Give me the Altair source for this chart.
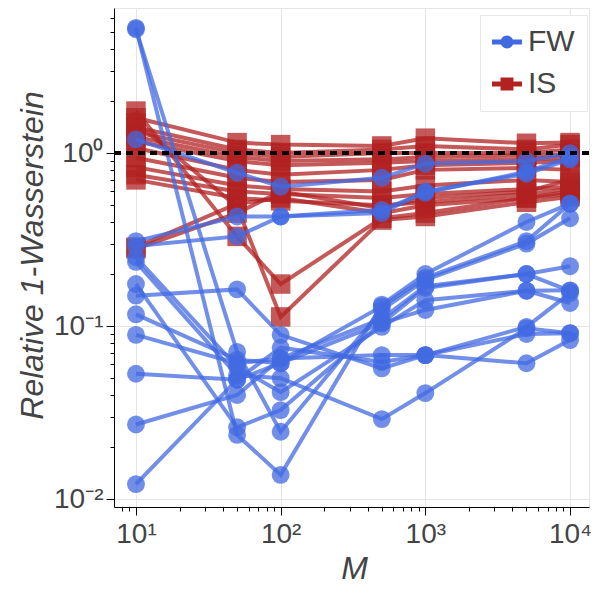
import altair as alt
import pandas as pd

# ---------------- data ----------------
M = [10, 50, 100, 500, 1000, 5000, 10000]

fw01 = [1.20, 0.77, 0.64, 0.72, 0.87, 0.90, 1.00]
fw02 = [0.31, 0.43, 0.43, 0.47, 0.59, 0.78, 0.95]
fw03 = [5.30, 0.0235, 0.0138, 0.133, 0.20, 0.40, 0.51]
fw04 = [5.20, 0.071, 0.0245, 0.124, 0.185, 0.30, 0.42]
fw05 = [0.175, 0.026, 0.0327, 0.104, 0.166, 0.20, 0.222]
fw06 = [0.25, 0.058, 0.0415, 0.099, 0.141, 0.16, 0.161]
fw07 = [0.117, 0.064, 0.061, 0.104, 0.124, 0.16, 0.136]
fw08 = [0.089, 0.061, 0.065, 0.068, 0.068, 0.099, 0.155]
fw09 = [0.053, 0.049, 0.075, 0.062, 0.068, 0.061, 0.083]
fw10 = [0.235, 0.052, 0.050, 0.029, 0.041, 0.097, 0.091]
fw11 = [0.15, 0.163, 0.089, 0.057, 0.068, 0.090, 0.091]
fw12 = [0.027, 0.040, 0.065, 0.110, 0.170, 0.200, 0.160]
fw13 = [0.0122, 0.049, 0.061, 0.130, 0.190, 0.31, 0.51]
fw14 = [0.29, 0.33, 0.43, 0.45, 0.60, 0.76, 0.92]

is01 = [1.75, 0.33, 0.175, 0.42, 0.45, 0.55, 0.60]
is02 = [1.50, 0.49, 0.113, 0.41, 0.43, 0.52, 0.56]
is03 = [1.60, 1.15, 1.12, 1.10, 1.22, 1.14, 1.15]
is04 = [1.41, 1.05, 1.00, 1.05, 1.10, 1.05, 1.12]
is05 = [1.32, 1.00, 0.95, 1.00, 1.00, 1.00, 1.05]
is06 = [1.24, 0.95, 0.90, 0.92, 0.95, 0.97, 0.98]
is07 = [1.17, 0.90, 0.85, 0.88, 0.90, 0.92, 0.94]
is08 = [1.07, 0.80, 0.75, 0.80, 0.85, 0.88, 0.90]
is09 = [0.94, 0.72, 0.68, 0.70, 0.80, 0.82, 0.80]
is10 = [0.83, 0.65, 0.62, 0.60, 0.65, 0.70, 0.68]
is11 = [0.75, 0.60, 0.58, 0.55, 0.58, 0.62, 0.64]
is12 = [0.70, 0.55, 0.53, 0.50, 0.52, 0.58, 0.62]
is13 = [0.286, 0.51, 0.55, 0.45, 0.50, 0.55, 0.58]
is14 = [0.28, 0.45, 0.60, 0.48, 0.55, 0.60, 0.70]

FW = [fw01, fw02, fw03, fw04, fw05, fw06, fw07, fw08, fw09, fw10, fw11, fw12, fw13, fw14]
IS = [is01, is02, is03, is04, is05, is06, is07, is08, is09, is10, is11, is12, is13, is14]
ref_value = [1.0]

rows = []
for name, group in (("FW", FW), ("IS", IS)):
    for i, s in enumerate(group):
        for m, v in zip(M, s):
            rows.append({"method": name, "run": f"{name}{i:02d}", "M": m, "value": v})
df = pd.DataFrame(rows)
df_fw = df[df.method == "FW"]
df_is = df[df.method == "IS"]
df_ref = pd.DataFrame({"ref": ref_value})

# ---------------- style ----------------
BLUE = "#4169E1"
RED = "#B22222"
FONT = "Liberation Sans"
TXT = "#444444"
GRID = "#e5e5e5"

dec = "abs(log(datum.value)/LN10 - round(log(datum.value)/LN10)) < 0.001"
ex = "round(log(datum.value)/LN10)"
label_expr = (f"{dec} ? '10' + ({ex} < 0 ? '\u207b' : '') + "
              f"substring('\u2070\u00b9\u00b2\u00b3\u2074\u2075\u2076\u2077\u2078\u2079', abs({ex}), abs({ex}) + 1) : ''")

x_ticks = [8, 9] + [k * 10 ** p for p in (1, 2, 3) for k in range(1, 10)] + [10000]
y_ticks = [round(k * 10.0 ** p, 6) for p in (-2, -1, 0) for k in range(1, 10) if k * 10.0 ** p <= 6.9]

common_axis = dict(
    grid=True,
    gridColor=GRID,
    gridOpacity={"condition": {"test": dec, "value": 1}, "value": 0},
    tickSize={"condition": {"test": dec, "value": 8}, "value": 4},
    tickColor="black",
    domainColor="black",
    labelExpr=label_expr,
    labelFont=FONT,
    labelFontSize=28,
    labelColor=TXT,
    labelOverlap=False,
    labelFlush=False,
    titleFont=FONT,
    titleFontSize=32,
    titleFontStyle="italic",
    titleFontWeight="normal",
    titleColor=TXT,
    titleBaseline="alphabetic",
)

x_axis = alt.Axis(values=x_ticks, title="M", labelBaseline="alphabetic", labelPadding=27,
                  titleX=240, titleY=71, **common_axis)
y_axis = alt.Axis(values=y_ticks, title="Relative 1-Wasserstein", labelPadding=3,
                  titleX=-72, titleY=247, **common_axis)

x_scale = alt.Scale(type="log", domain=[7.05, 13520], nice=False)
y_scale = alt.Scale(type="log", domain=[0.009, 6.9], nice=False)

X = alt.X("M:Q", scale=x_scale, axis=x_axis)
Y = alt.Y("value:Q", scale=y_scale, axis=y_axis)

is_lines = alt.Chart(df_is).mark_line(color=RED, opacity=0.75, strokeWidth=4).encode(
    x=X, y=Y, detail="run:N")
is_pts = alt.Chart(df_is).mark_square(color=RED, opacity=0.75, size=380, filled=True).encode(
    x="M:Q", y="value:Q")
fw_lines = alt.Chart(df_fw).mark_line(color=BLUE, opacity=0.75, strokeWidth=4).encode(
    x="M:Q", y="value:Q", detail="run:N")
fw_pts = alt.Chart(df_fw).mark_circle(color=BLUE, opacity=0.75, size=320).encode(
    x="M:Q", y="value:Q")

ref_rule = alt.Chart(df_ref).mark_rule(color="black", strokeWidth=4, strokeDash=[7, 5]).encode(
    y="ref:Q")

fw_sym = "M-1,-0.17H1V0.17H-1Z M-0.43,0A0.43,0.43 0 1,1 0.43,0A0.43,0.43 0 1,1 -0.43,0Z"
is_sym = "M-1,-0.17H1V0.17H-1Z M-0.43,-0.43H0.43V0.43H-0.43Z"

leg = alt.Legend(title=None, orient="none", legendX=366, legendY=7, padding=12, rowPadding=12,
                 fillColor="white", strokeColor="#e8e8e8", labelFont=FONT, labelFontSize=30,
                 labelColor=TXT, symbolStrokeWidth=0, labelOffset=6, symbolSize=900)

legend_layer = alt.Chart(df).transform_filter("false").mark_point(
    filled=True, opacity=1, size=900).encode(
    x="M:Q", y="value:Q",
    color=alt.Color("method:N", scale=alt.Scale(domain=["FW", "IS"], range=[BLUE, RED]), legend=leg),
    shape=alt.Shape("method:N", scale=alt.Scale(domain=["FW", "IS"], range=[fw_sym, is_sym]), legend=leg),
)

chart = alt.layer(is_lines, is_pts, fw_lines, fw_pts, ref_rule, legend_layer).properties(
    width=475, height=499,
    autosize="none",
    padding={"left": 106, "top": 0, "right": 3, "bottom": 80},
).configure_view(stroke=GRID, strokeWidth=1)

chart.save("out.html", embed_options={"renderer": "svg", "actions": False})
